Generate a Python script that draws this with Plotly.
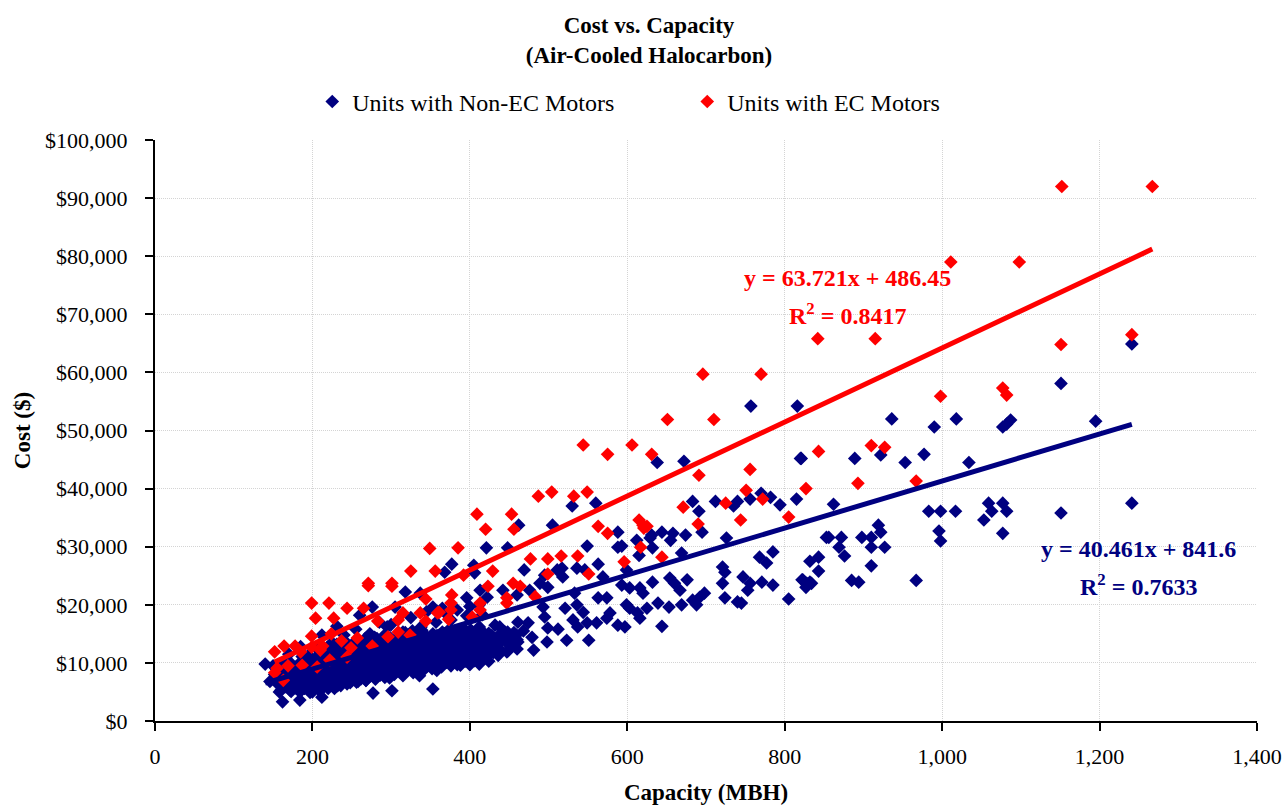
import plotly.graph_objects as go

TITLE_LINES = ["Cost vs. Capacity", "(Air-Cooled Halocarbon)"]
SERIES_NAMES = ["Units with Non-EC Motors", "Units with EC Motors"]
X_TITLE = "Capacity (MBH)"
Y_TITLE = "Cost ($)"

navy_high = [(1241,64900),(1151,58100),(1195,51600),(936,52000),(990,50600),(1018,52000),(1087,51800),(1082,51100),(1077,50600),
(889,45200),(922,45800),(953,44500),(977,45900),(1034,44500),(821,45200),(757,54200),(816,54200),(638,44500),(672,44700),(820,45200),
(862,37300),(983,36100),(998,36100),(1017,36100),(1059,37500),(1077,37500),(1063,36100),(1082,36100),(1053,34600),(1077,32300),
(1241,37500),(1151,35800),(996,32700),(998,31000),(856,31600),(872,31600),(869,29900),(876,28400),(898,31600),(910,31600),(922,32500),
(919,33700),(910,29900),(927,29900),(910,26700),(967,24200),(885,24200),(894,23900),(843,28200),(832,27500),(843,25800),(828,23700),(823,24300),(832,23900)]

navy_mid = [(530,37000),(560,37500),(462,33700),(505,33700),(421,29800),(448,29800),(377,27000),(368,25600),(405,26800),(406,25500),
(549,30100),(469,26000),(588,32500),(612,31100),(588,29900),(593,30100),(615,28500),(631,32000),(629,31500),(644,32500),(658,32300),
(655,31100),(674,32000),(695,32500),(691,36100),(683,37800),(712,37800),(735,37000),(740,37800),(756,38200),(770,39200),(782,38500),
(794,37200),(815,38200),(853,31600),(726,31500),(669,28900),(632,29800),(563,27000),(599,26000),(721,26500),(768,28200),(777,27200),(785,29100),
(654,24600),(660,23700),(667,22500),(676,24300),(632,23900),(593,23400),(603,22900),(616,22900),(620,22000),(569,24800),(536,26300),(546,26000),
(517,26300),(511,26000),(518,24800),(495,25100),(489,23700),(499,23000),(476,22500),(460,21700),(442,22500),(413,22500),(422,21300),(396,21200),
(384,19100),(368,18700),(747,24800),(756,23700),(753,22500),(771,23900),(785,23400),(721,23700),(724,25600),(822,24300),(827,23000),(834,23700),
(805,21000),(724,21200),(740,20500),(745,20300),(688,20000),(683,20800),(698,22000),(692,21300),(669,20000),(653,19600),(639,20300),(603,19400),
(599,20000),(613,18600),(625,19400),(616,17700),(578,18600),(574,17700),(644,16300),(588,16500),(597,16200),(563,21200),(574,21200),(533,22000),
(536,20000),(544,18700),(531,17400),(521,19400),(561,16900),(549,16900),(537,16200),(523,13900),(551,13900),(498,13600),(499,16000),(512,15800),
(495,17900),(493,19600),(481,12200),(479,14400),(474,16900),(461,17000),(448,15300),(447,11900),(429,13400),(413,10100),(438,16200)]

navy_dense = [(140,9800),(146,6800),(152,8000),(155,6500),(158,5000),(162,3300),(165,6000),(168,7800),(172,5200),(176,6600),(180,8400),(184,3600),
(186,5400),(190,6900),(194,9200),(197,4900),(200,6300),(204,7800),(208,10200),(212,4100),(214,5800),(218,7200),(222,8900),(225,11300),
(228,5600),(232,7100),(236,8500),(240,10100),(244,12200),(231,16300),(212,14800),(248,6600),(252,8000),(256,9700),(260,11400),(264,13100),
(268,7000),(272,8700),(276,10400),(279,12400),(277,4800),(282,14200),(286,8000),(290,9600),(294,11300),(297,13100),(295,16200),(273,15000),(260,18200),(276,19600),
(301,5200),(303,8300),(306,10000),(310,11800),(314,13500),(318,15200),(305,19600),(318,22200),(337,22000),(353,19600),(322,8900),(326,10700),(330,12400),
(334,14300),(338,16200),(342,9300),(346,11100),(350,12900),(353,14800),(357,17000),(353,5500),(360,10400),(364,12000),(368,13700),(372,15500),(376,17400),
(380,10500),(384,12200),(388,14000),(392,15900),(396,18100),(400,10700),(404,12500),(408,14300),(412,16200),(416,18300),(420,11000),(424,12900),(428,14700),(432,16500),
(400,19700),(412,20000),(436,11900),(440,13800),(444,15400),(452,13000),(456,15200),(460,14000),(468,15500),(164,10000),(172,9000),(190,11200),(205,12500),(225,13500),(240,14800),
(255,15800),(285,17000),(300,16600),(325,17800),(345,18800),(365,19400),(170,11500),(185,12800),(150,9500),(215,9600),(298,7400),(258,6800),(236,6100),(200,5000),(315,7800),(336,7800),(358,8700),(384,9700)]

navy_fill = [(160,5300),(161,6500),(159,7700),(162,8900),(173,5100),(171,6300),(174,7500),(172,8700),(173,9900),
(184,5000),(186,6200),(183,7400),(185,8800),(184,10000),(187,11100),(197,5300),(195,6500),(198,7700),(196,8900),(197,10100),(195,11300),
(208,5400),(210,6600),(207,7900),(209,9100),(208,10300),(210,11500),(220,5600),(221,6800),(219,8000),(222,9200),(220,10400),(221,11600),(219,12700),
(232,6100),(233,7300),(231,8500),(234,9700),(232,10900),(233,12100),(231,13200),(244,6400),(245,7600),(243,8800),(246,10000),(244,11200),(245,12400),(243,13500),
(256,6700),(257,7900),(255,9100),(258,10300),(256,11500),(257,12700),(255,13800),(268,7000),(269,8200),(267,9400),(270,10600),(268,11800),(269,13000),(267,14200),
(280,7200),(281,8400),(279,9600),(282,10800),(280,12000),(281,13200),(279,14400),(292,7500),(293,8700),(291,9900),(294,11100),(292,12300),(293,13500),(291,14700),
(304,8000),(305,9200),(303,10400),(306,11600),(304,12800),(305,14000),(316,8200),(317,9400),(315,10600),(318,11800),(316,13000),(317,14200),(315,15300),
(328,8300),(329,9500),(327,10700),(330,11900),(328,13100),(329,14300),(327,15500),(340,8600),(341,9800),(339,11000),(342,12200),(340,13400),(341,14600),(339,15600),
(352,9000),(353,10200),(351,11400),(354,12600),(352,13800),(353,15000),(364,9300),(365,10500),(363,11700),(366,12900),(364,14100),(365,15300),
(376,9500),(377,10700),(375,11900),(378,13100),(376,14300),(377,15500),(388,9600),(389,10800),(387,12000),(390,13200),(388,14400),(389,15600),
(400,9700),(401,10900),(399,12100),(402,13300),(400,14500),(401,15700),(412,9800),(413,11000),(411,12200),(414,13400),(412,14600),(413,15800),
(424,10300),(425,11500),(423,12700),(426,13900),(424,15100),(436,11300),(437,12500),(435,13700),(438,14900),(448,12000),(449,13200),(447,14400),(460,12400),(461,13600),(459,14800)]

navy_core = [(166,5900),(167,7100),(166,8300),(178,5700),(179,6900),(178,8100),(179,9300),(190,5600),(191,6800),(190,8100),(191,9400),(203,5900),(202,7100),(203,8300),(202,9500),(203,10700),
(214,6100),(215,7300),(214,8600),(215,9800),(214,11000),(227,6700),(226,7900),(227,9100),(226,10300),(227,11500),(238,6800),(239,8000),(238,9200),(239,10400),(238,11600),(239,12800),
(250,7100),(251,8300),(250,9500),(251,10700),(250,11900),(251,13100),(262,7300),(263,8500),(262,9800),(263,11000),(262,12200),(263,13400),(274,7800),(275,8900),(274,10100),(275,11300),(274,12500),(275,13700),
(286,7900),(287,9100),(286,10300),(287,11500),(286,12700),(287,13900),(298,8300),(299,9500),(298,10800),(299,12000),(298,13200),(299,14300),(310,8700),(311,9900),(310,11100),(311,12300),(310,13500),(311,14700),
(322,9000),(323,10100),(322,11300),(323,12500),(322,13700),(323,14900),(334,9100),(335,10300),(334,11500),(335,12800),(334,14000),(346,9500),(347,10700),(346,12000),(347,13200),(346,14400),
(358,9800),(359,11000),(358,12200),(359,13400),(358,14600),(370,10100),(371,11300),(370,12500),(371,13700),(370,14900),(382,10200),(383,11400),(382,12600),(383,13800),(382,15000),
(394,10300),(395,11500),(394,12700),(395,13900),(394,15100),(406,10400),(407,11600),(406,12800),(407,14000),(406,15200),(418,10900),(419,12100),(418,13300),(419,14500),(430,11800),(431,13000),(430,14200)]

red_high = [(1152,92000),(1267,92000),(1011,79000),(1098,79000),(842,65800),(915,65800),(1241,66500),(1151,64800),(696,59700),(770,59700),(651,51900),(710,51900),
(998,55900),(1077,57300),(1082,56100),(843,46400),(910,47400),(927,47100),(827,40000),(893,40900),(967,41300),
(544,47500),(575,45900),(606,47500),(631,45900),(691,42300),(756,43300),(751,39700),(487,38700),(504,39400),(532,38700),(549,39400),
(409,35600),(453,35600),(420,33000),(456,33000),(563,33500),(575,32300),(615,34600),(620,33700),(625,33500),(621,33200),(671,36800),(690,33900),
(725,37500),(772,38200),(744,34600),(805,35100)]

red_low = [(385,29800),(349,29700),(356,25800),(429,25800),(392,25100),(423,23200),(455,23700),(464,23200),(477,27900),(499,27900),(516,28400),(537,28400),
(596,27400),(617,29900),(644,28200),(499,25300),(551,25300),(483,21400),(447,21200),(447,20300),(413,20300),(413,19100),(377,21700),(376,20300),(376,19100),
(361,18700),(373,17500),(403,17900),(325,25800),(271,23700),(271,23300),(301,23700),(301,23200),(199,20300),(221,20300),(204,17700),(227,17700),(244,19400),(265,19400),
(152,11900),(164,12900),(178,12900),(199,14600),(185,11900),(199,12700),(210,12200),(213,12900),(224,15000),(237,13800),(257,14300),(249,12600),(283,17200),
(315,18600),(309,17400),(337,18600),(344,21000),(344,17200),(359,18600),(309,15300),(296,14500),(324,14800),(276,12900),(222,10500),(244,11000),(206,9300),
(187,9600),(169,9500),(155,9100),(152,8300),(163,7000)]

navy_trend_x = [140, 1241]
navy_trend_y = [6506, 51053]
red_trend_x = [152, 1267]
red_trend_y = [10172, 81220]

y_ticks = [0,10000,20000,30000,40000,50000,60000,70000,80000,90000,100000]
x_ticks = [0,200,400,600,800,1000,1200,1400]

NAVY = "#000080"
RED = "#FF0000"
FONT = "Liberation Serif"
GRID = "#d4d4d4"

navy = navy_fill + navy_core + navy_dense + navy_mid + navy_high
red = red_low + red_high

fig = go.Figure()
fig.add_trace(go.Scatter(x=[p[0] for p in navy], y=[p[1] for p in navy], mode="markers", name=SERIES_NAMES[0],
                         marker=dict(symbol="diamond", size=10.5, color=NAVY, line=dict(width=0))))
fig.add_trace(go.Scatter(x=[p[0] for p in red], y=[p[1] for p in red], mode="markers", name=SERIES_NAMES[1],
                         marker=dict(symbol="diamond", size=10.5, color=RED, line=dict(width=0))))
fig.add_trace(go.Scatter(x=navy_trend_x, y=navy_trend_y, mode="lines", showlegend=False, line=dict(color=NAVY, width=5)))
fig.add_trace(go.Scatter(x=red_trend_x, y=red_trend_y, mode="lines", showlegend=False, line=dict(color=RED, width=5)))

def note(x, y, text, color):
    return dict(x=x, y=y, xref="x", yref="y", text=text, showarrow=False,
                font=dict(family=FONT, size=24, color=color))

axis_common = dict(showgrid=True, gridcolor=GRID, griddash="1px,1px", gridwidth=1, automargin=False,
                   showline=True, linecolor="black", linewidth=2, ticks="outside", ticklen=8, tickwidth=2,
                   tickcolor="black", zeroline=False, tickfont=dict(family=FONT, size=22))

fig.update_layout(
    width=1286, height=805, autosize=False,
    margin=dict(l=155, r=29, t=140, b=84, pad=0),
    paper_bgcolor="white", plot_bgcolor="white",
    font=dict(family=FONT, size=22, color="black"),
    title=dict(text="<b>%s<br>%s</b>" % tuple(TITLE_LINES), automargin=False,
               x=0.5047, xanchor="center", y=0.9595, yanchor="top",
               font=dict(family=FONT, size=23, color="black")),
    legend=dict(orientation="h", x=0.1427, xanchor="left", y=1.0655, yanchor="middle",
                font=dict(family=FONT, size=24), itemwidth=30, entrywidth=330, entrywidthmode="pixels"),
    xaxis=dict(range=[0,1400], tickvals=x_ticks, tickformat=",d", ticklabelstandoff=7,
               title=dict(text="<b>%s</b>" % X_TITLE, standoff=21, font=dict(family=FONT, size=23)), **axis_common),
    yaxis=dict(range=[0,100000], tickvals=y_ticks, tickformat="$,.0f", ticklabelstandoff=13,
               title=dict(text="<b>%s</b>" % Y_TITLE, standoff=8, font=dict(family=FONT, size=23)), **axis_common),
    annotations=[
        note(880, 76240, "<b>y = 63.721x + 486.45</b>", RED),
        note(880, 70050, "<b>R<sup>2</sup> = 0.8417</b>", RED),
        note(1250, 29600, "<b>y = 40.461x + 841.6</b>", NAVY),
        note(1250, 23400, "<b>R<sup>2</sup> = 0.7633</b>", NAVY),
    ],
)
fig.write_html("out.html", post_script="document.body.style.margin='0';", config={"displayModeBar": False})
